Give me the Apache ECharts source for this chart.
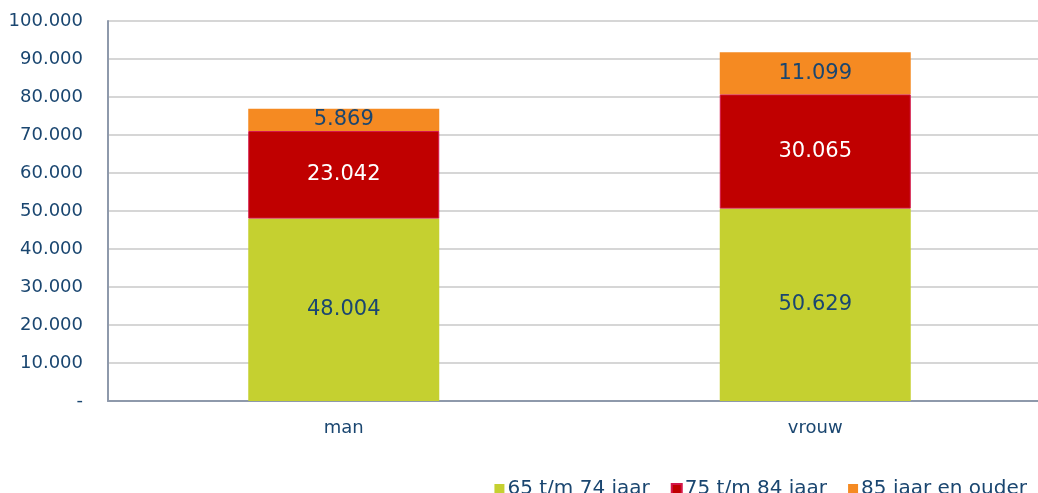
<!DOCTYPE html>
<html>
<head>
<meta charset="utf-8">
<script src="https://cdn.jsdelivr.net/npm/echarts@6/dist/echarts.min.js"></script>
<style>html,body{margin:0;padding:0;background:#fff;}#c{width:1038px;height:493px;}</style>
</head>
<body>
<div id="c"></div>
<script>
const categories = ['man', 'vrouw'];
const seriesNames = ['65 t/m 74 jaar', '75 t/m 84 jaar', '85 jaar en ouder'];
const age65_74 = [48004, 50629];
const age75_84 = [23042, 30065];
const age85plus = [5869, 11099];
const yTicks = [0, 10000, 20000, 30000, 40000, 50000, 60000, 70000, 80000, 90000, 100000];

const textColor = '#1A4670';
const font = 'DejaVu Sans, Verdana, sans-serif';
function fmt(v) {
  if (v === 0) return '-';
  return String(Math.round(v)).replace(/\B(?=(\d{3})+(?!\d))/g, '.');
}
const colors = ['#C5D030', '#C00000', '#F58A22'];
const labelColors = [textColor, '#FFFFFF', textColor];
const dataSets = [age65_74, age75_84, age85plus];

const chart = echarts.init(document.getElementById('c'), null, {renderer: 'canvas'});
chart.setOption({
  animation: false,
  backgroundColor: '#fff',
  grid: {left: 108, width: 943, top: 21, bottom: 92, containLabel: false, outerBoundsMode: 'none'},
  legend: {
    right: 6, top: 474,
    itemWidth: 10, itemHeight: 10, itemGap: 21,
    icon: 'rect',
    textStyle: {color: textColor, fontFamily: font, fontSize: 20, padding: [0, 0, 0, -2]},
    data: seriesNames
  },
  xAxis: {
    type: 'category',
    data: categories,
    axisLine: {show: true, lineStyle: {color: '#8E99AB', width: 2}},
    axisTick: {show: false},
    axisLabel: {color: textColor, fontFamily: font, fontSize: 18, margin: 18}
  },
  yAxis: {
    type: 'value',
    min: yTicks[0], max: yTicks[yTicks.length - 1], interval: yTicks[1] - yTicks[0],
    axisLine: {show: true, lineStyle: {color: '#8E99AB', width: 2}},
    axisTick: {show: false},
    splitLine: {lineStyle: {color: '#D6D6D6', width: 2}},
    axisLabel: {color: textColor, fontFamily: font, fontSize: 18, margin: 25, formatter: fmt}
  },
  series: seriesNames.map((n, i) => ({
    name: n,
    type: 'bar',
    stack: 'total',
    barWidth: 191,
    data: dataSets[i],
    itemStyle: {color: colors[i], borderColor: i === 1 ? '#D4164A' : colors[i], borderWidth: i === 1 ? 1 : 0},
    label: {
      show: true, position: 'inside',
      color: labelColors[i], fontFamily: font, fontSize: 21,
      formatter: p => fmt(p.value)
    }
  }))
});
</script>
</body>
</html>
